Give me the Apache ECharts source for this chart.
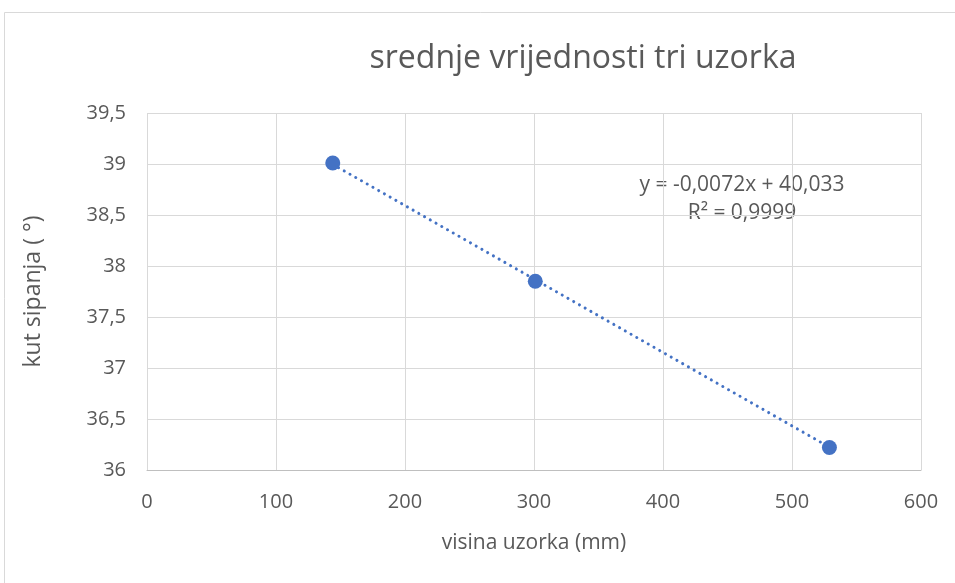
<!DOCTYPE html>
<html>
<head>
<meta charset="utf-8">
<script src="https://cdn.jsdelivr.net/npm/echarts@6/dist/echarts.min.js"></script>
<style>
  html, body { margin: 0; padding: 0; background: #fff; }
  #chart { width: 955px; height: 583px; }
</style>
</head>
<body>
<div id="chart"></div>
<script>
// data
var visina = [144, 301, 529];
var kut = [39.01, 37.85, 36.22];
// trendline ends (as drawn, spans the data range)
var trendX = [144, 529];
var trendY = [38.996, 36.224];
var xTicks = { min: 0, max: 600, step: 100 };
var yTicks = { min: 36, max: 39.5, step: 0.5 };

var txt = '#595959';
var font = 'Open Sans';

var chart = echarts.init(document.getElementById('chart'));

var option = {
  backgroundColor: '#fff',
  animation: false,
  title: {
    text: 'srednje vrijednosti tri uzorka',
    left: 578, top: 38, textAlign: 'center',
    textStyle: { color: txt, fontFamily: font, fontWeight: 'normal', fontSize: 32 }
  },
  grid: { left: 147, right: 34, top: 113, bottom: 113 },
  xAxis: {
    type: 'value',
    min: xTicks.min, max: xTicks.max, interval: xTicks.step,
    name: 'visina uzorka (mm)', nameLocation: 'middle', nameGap: 63,
    nameTextStyle: { color: txt, fontFamily: font, fontSize: 21 },
    axisLine: { show: true, lineStyle: { color: '#bfbfbf', width: 1 } },
    axisTick: { show: false },
    axisLabel: { color: txt, fontFamily: font, fontSize: 20, margin: 22 },
    splitLine: { show: true, lineStyle: { color: '#d9d9d9', width: 1 } }
  },
  yAxis: {
    type: 'value',
    min: yTicks.min, max: yTicks.max, interval: yTicks.step,
    name: 'kut sipanja ( °)', nameLocation: 'middle', nameGap: 102, nameRotate: 90,
    nameTextStyle: { color: txt, fontFamily: font, fontSize: 23 },
    axisLine: { show: false },
    axisTick: { show: false },
    axisLabel: {
      color: txt, fontFamily: font, fontSize: 20, margin: 21,
      formatter: function (v) { return String(v).replace('.', ','); }
    },
    splitLine: { show: true, lineStyle: { color: '#d9d9d9', width: 1 } }
  },
  series: [
    {
      type: 'line',
      data: trendX.map(function (x, i) { return [x, trendY[i]]; }),
      symbol: 'none',
      lineStyle: { color: '#4472C4', width: 3, type: [0.1, 6.5], cap: 'round' },
      z: 2
    },
    {
      type: 'scatter',
      data: visina.map(function (x, i) { return [x, kut[i]]; }),
      symbolSize: 15,
      itemStyle: { color: '#4472C4', opacity: 1 },
      z: 3
    }
  ],
  graphic: [
    {
      type: 'rect', silent: true, z: -1,
      shape: { x: 4.5, y: 12.5, width: 960, height: 600 },
      style: { fill: 'none', stroke: '#d9d9d9', lineWidth: 1 }
    },
    {
      type: 'text', x: 742, y: 185,
      style: { text: 'y = -0,0072x + 40,033', fill: txt, font: '21px "Open Sans"', align: 'center', verticalAlign: 'middle' }
    },
    {
      type: 'text', x: 742, y: 213,
      style: { text: 'R² = 0,9999', fill: txt, font: '21px "Open Sans"', align: 'center', verticalAlign: 'middle' }
    }
  ]
};

chart.setOption(option);
</script>
</body>
</html>
